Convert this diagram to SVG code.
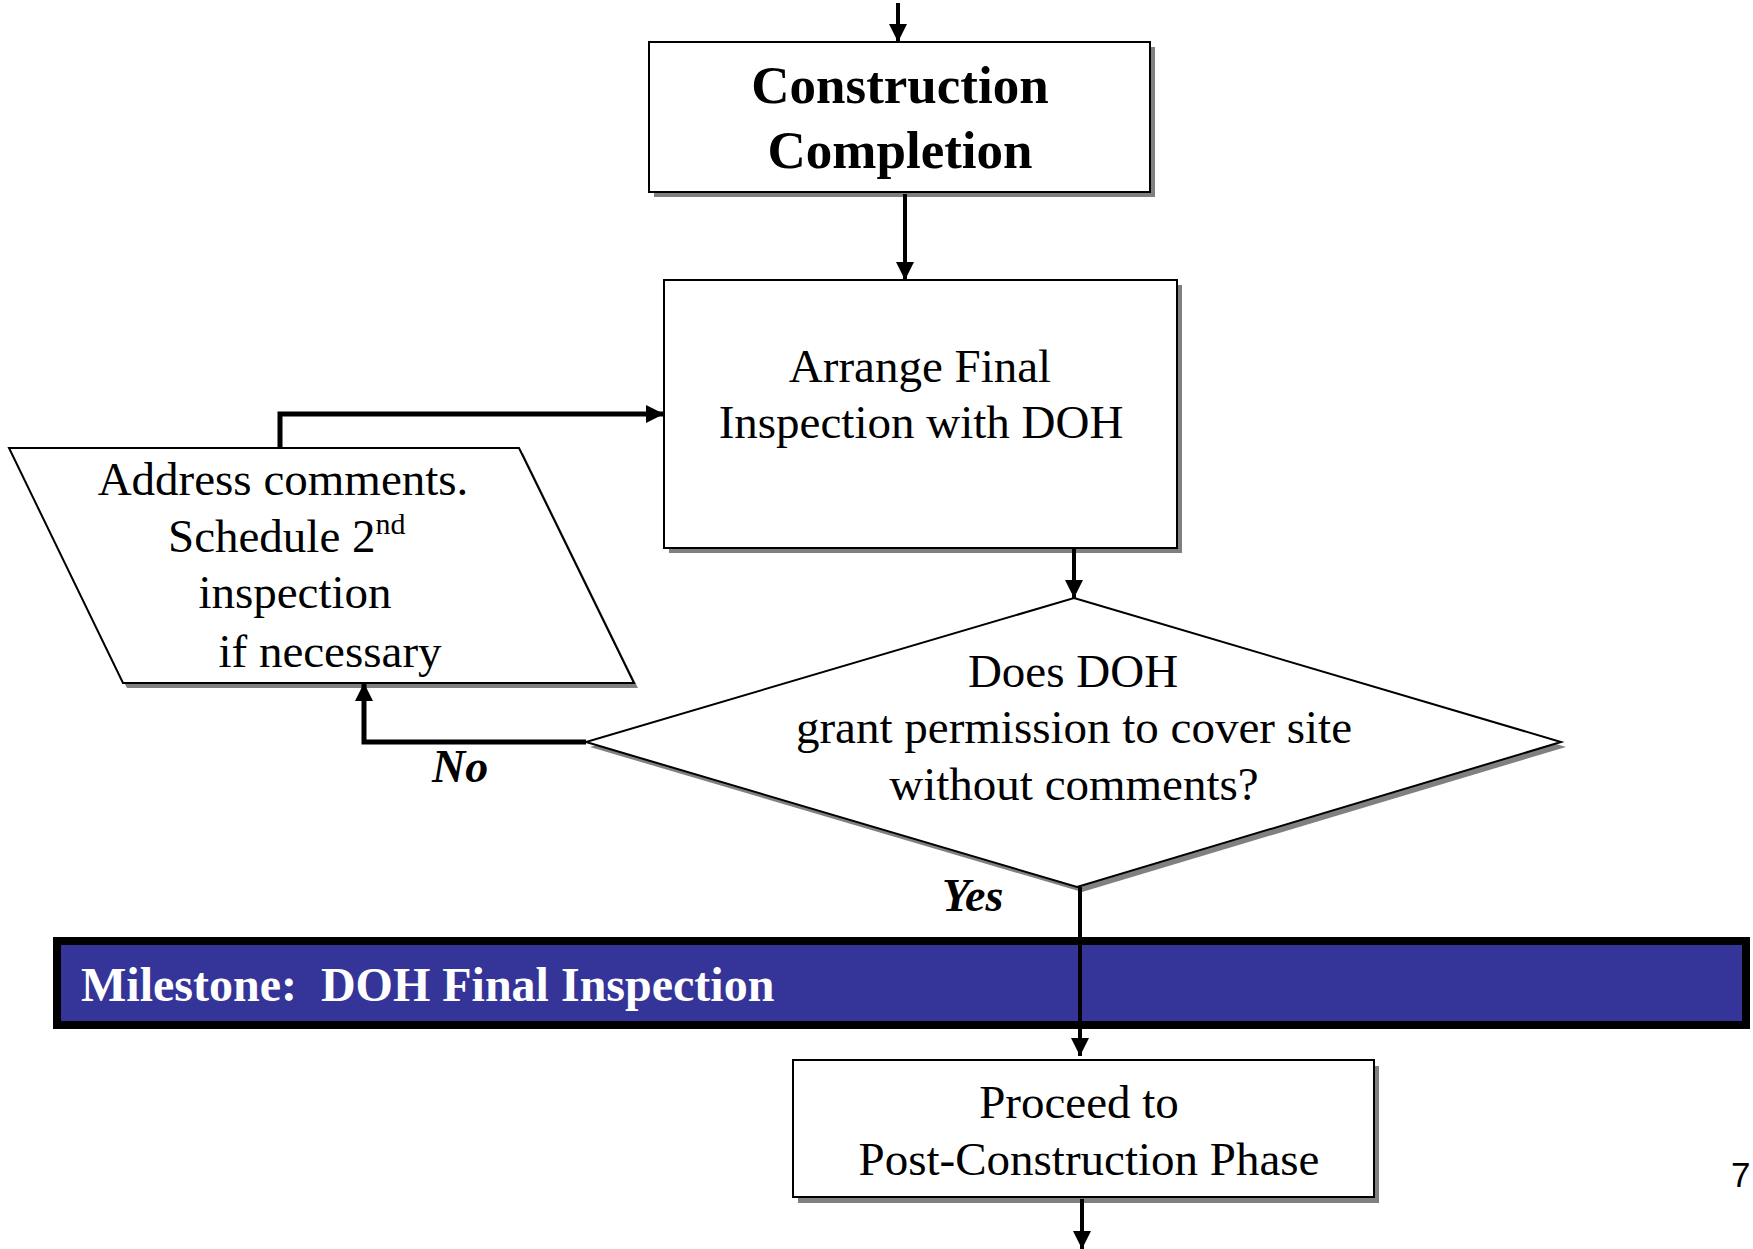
<svg xmlns="http://www.w3.org/2000/svg" width="1753" height="1249" viewBox="0 0 1753 1249">
<style>
.box{fill:#fff;stroke:#000;stroke-width:2}
.sh{fill:#808080;stroke:none}
.t{font-family:"Liberation Serif","Times New Roman",serif;font-size:47px;fill:#000}
.tb{font-family:"Liberation Serif","Times New Roman",serif;font-size:53px;font-weight:bold;fill:#000}
.lbl{font-family:"Liberation Serif","Times New Roman",serif;font-size:46px;font-weight:bold;font-style:italic;fill:#000}
.c{text-anchor:middle}
.ln{fill:none;stroke:#000;stroke-width:4}
.lnb{fill:none;stroke:#000;stroke-width:5}
</style>
<defs>
<marker id="ah" viewBox="0 0 18 18" refX="18" refY="9" markerWidth="18" markerHeight="18" markerUnits="userSpaceOnUse" orient="auto">
<path d="M0,0 L18,9 L0,18 Z" fill="#000"/>
</marker>
</defs>

<g id="milestone">
<rect x="57" y="941" width="1689" height="84" fill="#353599" stroke="#000" stroke-width="8"/>
<text x="81" y="1001" style="font-family:'Liberation Serif','Times New Roman',serif;font-size:48px;font-weight:bold;fill:#fff;white-space:pre" xml:space="preserve">Milestone:  DOH Final Inspection</text>
</g>

<g id="construction-completion">
<rect class="sh" x="654" y="47" width="501" height="150"/>
<rect class="box" x="649" y="42" width="501" height="150"/>
<text class="tb c" x="900" y="103">Construction</text>
<text class="tb c" x="900" y="168">Completion</text>
</g>

<g id="arrange-inspection">
<rect class="sh" x="669" y="285" width="513" height="268"/>
<rect class="box" x="664" y="280" width="513" height="268"/>
<text class="t c" x="920" y="382">Arrange Final</text>
<text class="t c" x="921" y="438">Inspection with DOH</text>
</g>

<g id="address-comments">
<polygon class="sh" points="13,453 523,453 638,688 127,688"/>
<polygon class="box" points="9,448 519,448 634,683 123,683"/>
<text class="t c" x="283" y="495">Address comments.</text>
<text class="t" x="168" y="552">Schedule 2<tspan font-size="30" dy="-18">nd</tspan></text>
<text class="t c" x="295" y="608">inspection</text>
<text class="t c" x="330" y="667">if necessary</text>
</g>

<g id="decision">
<polygon class="sh" points="1078,603 1566,747 1082,892 590,747"/>
<polygon class="box" points="1074,598 1561,742 1077,887 586,742"/>
<text class="t c" x="1073" y="687">Does DOH</text>
<text class="t c" x="1074" y="743">grant permission to cover site</text>
<text class="t c" x="1074" y="800">without comments?</text>
</g>

<g id="post-construction">
<rect class="sh" x="798" y="1066" width="581" height="137"/>
<rect class="box" x="793" y="1060" width="581" height="137"/>
<text class="t c" x="1079" y="1118">Proceed to</text>
<text class="t c" x="1089" y="1175">Post-Construction Phase</text>
</g>

<g id="connectors">
<line class="ln" x1="898" y1="3" x2="898" y2="42" marker-end="url(#ah)"/>
<line class="ln" x1="905" y1="194" x2="905" y2="280" marker-end="url(#ah)"/>
<path class="lnb" d="M280,448 V414 H664" marker-end="url(#ah)"/>
<line class="ln" x1="1074" y1="549" x2="1074" y2="598" marker-end="url(#ah)"/>
<path class="lnb" d="M586,742 H364 V683" marker-end="url(#ah)"/>
<line class="ln" x1="1080" y1="887" x2="1080" y2="1056" marker-end="url(#ah)"/>
<line class="ln" x1="1082" y1="1199" x2="1082" y2="1249" marker-end="url(#ah)"/>
<text class="lbl" x="432" y="782">No</text>
<text class="lbl" x="942" y="911">Yes</text>
</g>

<text x="1731" y="1187" style="font-family:'Liberation Sans',Arial,sans-serif;font-size:35px;fill:#000">7</text>
</svg>
